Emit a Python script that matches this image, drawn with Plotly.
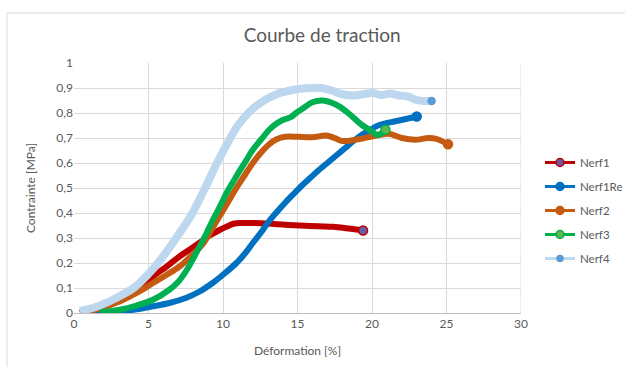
import plotly.graph_objects as go

# Tensile test curves: strain [%] vs stress [MPa]
series_names = ["Nerf1", "Nerf1Re", "Nerf2", "Nerf3", "Nerf4"]

nerf1_x = [0.4, 1.5, 2.3, 3.1, 4.2, 5.3, 6.2, 7.1, 7.8, 8.4, 9.1, 9.8, 10.3, 10.7, 11.3,
           12.0, 13.0, 14.2, 15.2, 16.4, 17.4, 18.4, 19.4]
nerf1_y = [0.0, 0.015, 0.03, 0.053, 0.095, 0.147, 0.185, 0.227, 0.255, 0.28, 0.31, 0.333,
           0.347, 0.357, 0.36, 0.36, 0.358, 0.353, 0.35, 0.347, 0.345, 0.338, 0.33]

nerf1re_x = [1.1, 2.2, 3.1, 4.2, 5.3, 6.4, 7.5, 8.4, 9.3, 10.1, 10.9, 11.5, 12.0, 12.6,
             13.1, 13.7, 14.2, 14.8, 15.3, 15.9, 16.4, 17.1, 17.7, 18.2, 18.8, 19.3, 19.9,
             20.4, 21.0, 21.5, 22.2, 23.0]
nerf1re_y = [0.0, 0.004, 0.007, 0.015, 0.027, 0.04, 0.06, 0.085, 0.12, 0.158, 0.2, 0.24,
             0.28, 0.326, 0.368, 0.41, 0.443, 0.48, 0.51, 0.543, 0.57, 0.605, 0.635,
             0.66, 0.69, 0.712, 0.733, 0.75, 0.76, 0.766, 0.775, 0.786]

nerf2_x = [0.4, 1.5, 2.3, 3.1, 4.2, 5.3, 6.2, 7.1, 7.9, 8.7, 9.2, 9.8, 10.4, 10.9, 11.5,
           12.0, 12.6, 13.1, 13.6, 14.2, 15.0, 16.0, 16.9, 17.5, 18.0, 18.9, 20.0, 21.1,
           22.0, 22.9, 23.8, 24.4, 25.1]
nerf2_y = [0.004, 0.015, 0.03, 0.047, 0.08, 0.12, 0.152, 0.187, 0.23, 0.28, 0.33, 0.39,
           0.45, 0.50, 0.555, 0.60, 0.645, 0.675, 0.695, 0.705, 0.705, 0.703, 0.71, 0.70,
           0.688, 0.693, 0.706, 0.717, 0.70, 0.693, 0.70, 0.695, 0.675]

nerf3_x = [1.75, 2.5, 3.1, 4.2, 5.3, 6.4, 7.0, 7.6, 8.2, 8.9, 9.3, 9.8, 10.3, 10.9, 11.5,
           12.0, 12.6, 13.1, 13.6, 14.0, 14.3, 14.6, 14.9, 15.4, 16.0, 16.7, 17.6, 18.4,
           19.3, 20.0, 20.3, 20.6, 20.9]
nerf3_y = [0.004, 0.008, 0.013, 0.03, 0.053, 0.093, 0.125, 0.175, 0.24, 0.32, 0.37, 0.427,
           0.487, 0.547, 0.605, 0.653, 0.697, 0.733, 0.758, 0.772, 0.778, 0.785, 0.80,
           0.82, 0.843, 0.85, 0.833, 0.80, 0.753, 0.726, 0.713, 0.717, 0.733]

nerf4_x = [0.4, 1.5, 2.5, 3.3, 4.0, 4.9, 5.7, 6.8, 7.9, 8.8, 9.6, 10.4, 11.0, 11.7, 12.5,
           13.6, 14.5, 15.2, 16.0, 16.6, 17.3, 18.0, 18.7, 19.4, 20.0, 20.6, 21.2, 21.8,
           22.4, 23.0, 23.5, 24.0]
nerf4_y = [0.008, 0.025, 0.05, 0.075, 0.10, 0.15, 0.205, 0.295, 0.395, 0.50, 0.60, 0.69,
           0.75, 0.80, 0.84, 0.875, 0.89, 0.897, 0.90, 0.90, 0.89, 0.875, 0.87, 0.875,
           0.88, 0.872, 0.878, 0.87, 0.866, 0.852, 0.848, 0.848]

y_tick_vals = [0, 0.1, 0.2, 0.3, 0.4, 0.5, 0.6, 0.7, 0.8, 0.9, 1]
y_tick_text = ["0", "0,1", "0,2", "0,3", "0,4", "0,5", "0,6", "0,7", "0,8", "0,9", "1"]
x_tick_vals = [0, 5, 10, 15, 20, 25, 30]

xs = [nerf1_x, nerf1re_x, nerf2_x, nerf3_x, nerf4_x]
ys = [nerf1_y, nerf1re_y, nerf2_y, nerf3_y, nerf4_y]

line_colors = ["#C00000", "#0070C0", "#C55A11", "#00B050", "#BDD7EE"]
marker_fill = ["#6A5AA8", "#0070C0", "#C55A11", "#5CB84A", "#5B9BD5"]
marker_line = ["#C00000", "#0070C0", "#C55A11", "#00B050", "#5B9BD5"]
line_widths = [6, 6, 6, 6, 8]
end_sizes = [9, 9, 9, 9, 7]

fig = go.Figure()
for i, name in enumerate(series_names):
    fig.add_trace(go.Scatter(
        x=xs[i], y=ys[i], mode="lines",
        line=dict(color=line_colors[i], width=line_widths[i], shape="spline", smoothing=1.0),
        showlegend=False, legendgroup=name, hoverinfo="skip"))
    fig.add_trace(go.Scatter(
        x=[xs[i][-1]], y=[ys[i][-1]], mode="markers",
        marker=dict(color=marker_fill[i], size=end_sizes[i],
                    line=dict(color=marker_line[i], width=1.5)),
        showlegend=False, legendgroup=name, hoverinfo="skip"))
    fig.add_trace(go.Scatter(
        x=[None], y=[None], mode="lines+markers", name=name, legendgroup=name,
        line=dict(color=line_colors[i], width=3),
        marker=dict(color=marker_fill[i], size=8 if i < 4 else 6,
                    line=dict(color=marker_line[i], width=1.5))))

grid = "#D9D9D9"
txt = "#595959"
font_family = "Lato, 'Open Sans', sans-serif"

fig.update_layout(
    width=625, height=367,
    margin=dict(l=74, r=104, t=63, b=54, autoexpand=False),
    paper_bgcolor="white", plot_bgcolor="white",
    font=dict(family=font_family, color=txt, size=12),
    title=dict(text="Courbe de traction", x=0.5155, xanchor="center", y=0.905,
               yanchor="middle", font=dict(size=19, color=txt)),
    legend=dict(x=1.0425, y=0.41, xanchor="left", yanchor="middle",
                traceorder="grouped", tracegroupgap=5, itemwidth=30,
                font=dict(size=11.5, color=txt), bgcolor="rgba(0,0,0,0)"),
    showlegend=True,
    shapes=[dict(type="line", xref="paper", yref="paper", x0=-0.15, x1=1.3, y0=1.2, y1=1.2,
                 line=dict(color="#D9D9D9", width=1)),
            dict(type="line", xref="paper", yref="paper", x0=-0.15, x1=-0.15, y0=1.2, y1=-0.3,
                 line=dict(color="#D9D9D9", width=1))],
)
fig.update_xaxes(range=[0, 30], tickvals=x_tick_vals, showgrid=True, gridcolor=grid,
                 gridwidth=1, zeroline=False, showline=True, linecolor="#BFBFBF",
                 ticks="", tickfont=dict(size=12, color=txt),
                 title=dict(text="Déformation [%]", font=dict(size=12, color=txt), standoff=16))
fig.update_yaxes(range=[0, 1], tickvals=y_tick_vals, ticktext=y_tick_text, showgrid=True,
                 gridcolor=grid, gridwidth=1, zeroline=False, showline=False, ticks="",
                 tickfont=dict(size=12, color=txt),
                 title=dict(text="Contrainte [MPa]", font=dict(size=12, color=txt), standoff=18))
# right-hand gridline at x = 30
fig.add_shape(type="line", xref="x", yref="y", x0=30, x1=30, y0=0, y1=1,
              line=dict(color=grid, width=1), layer="below")

fig.write_html("out.html")
